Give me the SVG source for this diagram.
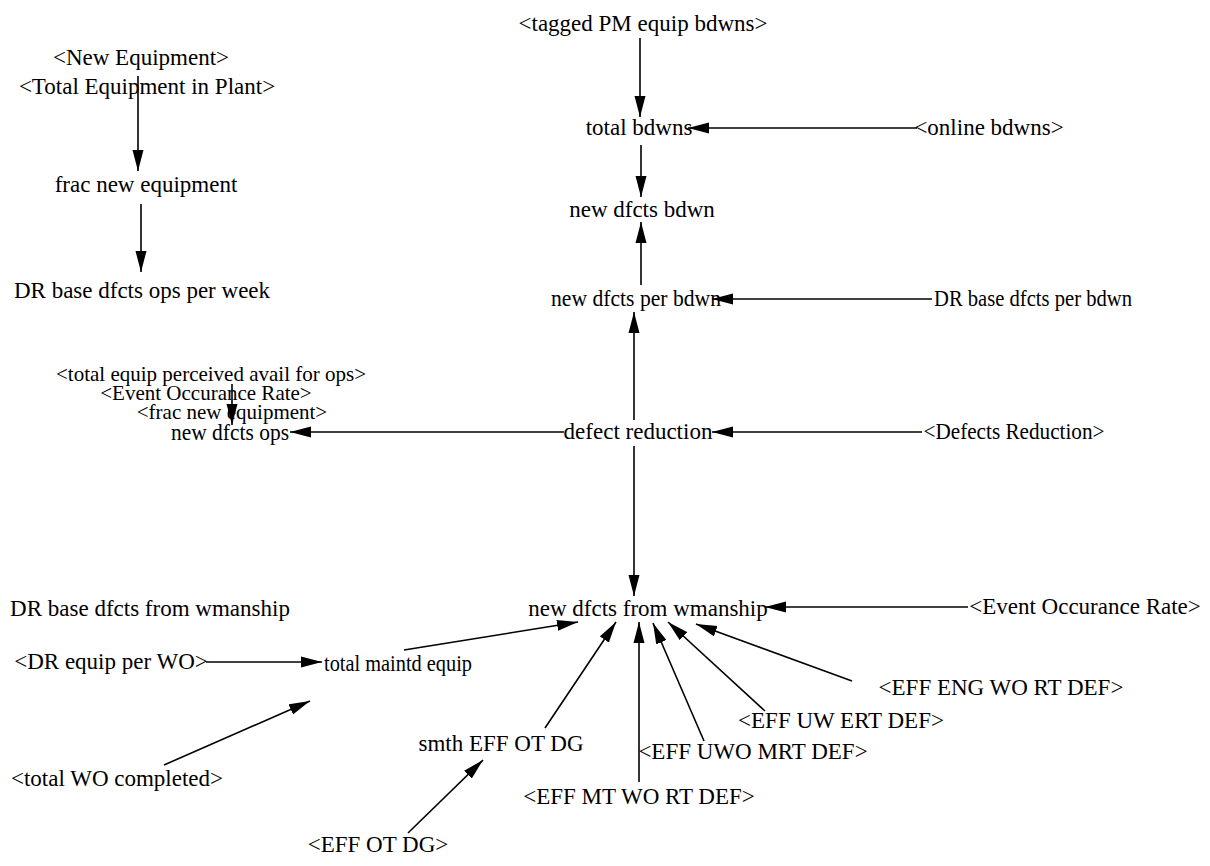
<svg xmlns="http://www.w3.org/2000/svg" width="1210" height="866" viewBox="0 0 1210 866">
  <style>
    text { font-family: "Liberation Serif", "Times New Roman", serif; font-size: 23px; fill: #000; text-anchor: middle; }
    .small { font-size: 21px; }
    .link { stroke: #000; stroke-width: 1.6; fill: none; marker-end: url(#head); }
  </style>
  <defs>
    <marker id="head" markerUnits="userSpaceOnUse" markerWidth="22" markerHeight="12" refX="21" refY="6" orient="auto">
      <path d="M0,0.5 L21,6 L0,11.5 Z" fill="#000"/>
    </marker>
  </defs>
  <rect width="1210" height="866" fill="#fff"/>

  <!-- connectors -->
  <g id="connectors">
    <line class="link" x1="138" y1="76" x2="138" y2="171"/>
    <line class="link" x1="141" y1="204" x2="141" y2="272"/>
    <line class="link" x1="232" y1="384" x2="232" y2="425"/>
    <line class="link" x1="640" y1="38" x2="640" y2="117"/>
    <line class="link" x1="917" y1="128" x2="688" y2="128"/>
    <line class="link" x1="641" y1="145" x2="641" y2="197"/>
    <line class="link" x1="641" y1="285" x2="641" y2="222"/>
    <line class="link" x1="932" y1="299" x2="712" y2="299"/>
    <line class="link" x1="634" y1="420" x2="634" y2="312"/>
    <line class="link" x1="564" y1="432" x2="290" y2="432"/>
    <line class="link" x1="922" y1="432" x2="712" y2="432"/>
    <line class="link" x1="634" y1="446" x2="634" y2="596"/>
    <line class="link" x1="968" y1="607" x2="765" y2="607"/>
    <line class="link" x1="404" y1="650" x2="578" y2="622"/>
    <line class="link" x1="206" y1="662" x2="322" y2="662"/>
    <line class="link" x1="164" y1="765" x2="310" y2="701"/>
    <line class="link" x1="545" y1="728" x2="616" y2="622"/>
    <line class="link" x1="639" y1="782" x2="639" y2="622"/>
    <line class="link" x1="704" y1="741" x2="653" y2="623"/>
    <line class="link" x1="765" y1="711" x2="668" y2="622"/>
    <line class="link" x1="852" y1="681" x2="696" y2="624"/>
    <line class="link" x1="408" y1="833" x2="483" y2="760"/>
  </g>

  <!-- variables -->
  <g id="new-equipment"><text x="141" y="65">&lt;New Equipment&gt;</text></g>
  <g id="total-equipment-in-plant"><text x="147" y="94">&lt;Total Equipment in Plant&gt;</text></g>
  <g id="frac-new-equipment"><text x="146" y="192">frac new equipment</text></g>
  <g id="dr-base-dfcts-ops-per-week"><text x="142" y="298">DR base dfcts ops per week</text></g>
  <g id="total-equip-perceived-avail"><text class="small" x="211" y="381">&lt;total equip perceived avail for ops&gt;</text></g>
  <g id="event-occurance-rate-ops"><text class="small" x="206" y="400">&lt;Event Occurance Rate&gt;</text></g>
  <g id="frac-new-equipment-ref"><text class="small" x="232" y="419">&lt;frac new equipment&gt;</text></g>
  <g id="new-dfcts-ops"><text x="230" y="440" textLength="118" lengthAdjust="spacingAndGlyphs">new dfcts ops</text></g>

  <g id="tagged-pm-equip-bdwns"><text x="643" y="31">&lt;tagged PM equip bdwns&gt;</text></g>
  <g id="total-bdwns"><text x="639" y="135">total bdwns</text></g>
  <g id="online-bdwns"><text x="989" y="135">&lt;online bdwns&gt;</text></g>
  <g id="new-dfcts-bdwn"><text x="642" y="217">new dfcts bdwn</text></g>
  <g id="new-dfcts-per-bdwn"><text x="636" y="306" textLength="170" lengthAdjust="spacingAndGlyphs">new dfcts per bdwn</text></g>
  <g id="dr-base-dfcts-per-bdwn"><text x="1033" y="306" textLength="198" lengthAdjust="spacingAndGlyphs">DR base dfcts per bdwn</text></g>
  <g id="defect-reduction"><text x="638" y="439">defect reduction</text></g>
  <g id="defects-reduction-ref"><text x="1014" y="439" textLength="181" lengthAdjust="spacingAndGlyphs">&lt;Defects Reduction&gt;</text></g>

  <g id="dr-base-dfcts-from-wmanship"><text x="150" y="616">DR base dfcts from wmanship</text></g>
  <g id="new-dfcts-from-wmanship"><text x="648" y="616">new dfcts from wmanship</text></g>
  <g id="event-occurance-rate"><text x="1085" y="614">&lt;Event Occurance Rate&gt;</text></g>
  <g id="dr-equip-per-wo"><text x="111" y="669">&lt;DR equip per WO&gt;</text></g>
  <g id="total-maintd-equip"><text x="398" y="671" textLength="148" lengthAdjust="spacingAndGlyphs">total maintd equip</text></g>
  <g id="eff-eng-wo-rt-def"><text x="1001" y="695">&lt;EFF ENG WO RT DEF&gt;</text></g>
  <g id="eff-uw-ert-def"><text x="841" y="728">&lt;EFF UW ERT DEF&gt;</text></g>
  <g id="smth-eff-ot-dg"><text x="501" y="751">smth EFF OT DG</text></g>
  <g id="eff-uwo-mrt-def"><text x="753" y="759">&lt;EFF UWO MRT DEF&gt;</text></g>
  <g id="total-wo-completed"><text x="117" y="786">&lt;total WO completed&gt;</text></g>
  <g id="eff-mt-wo-rt-def"><text x="639" y="804">&lt;EFF MT WO RT DEF&gt;</text></g>
  <g id="eff-ot-dg"><text x="378" y="852">&lt;EFF OT DG&gt;</text></g>
</svg>
